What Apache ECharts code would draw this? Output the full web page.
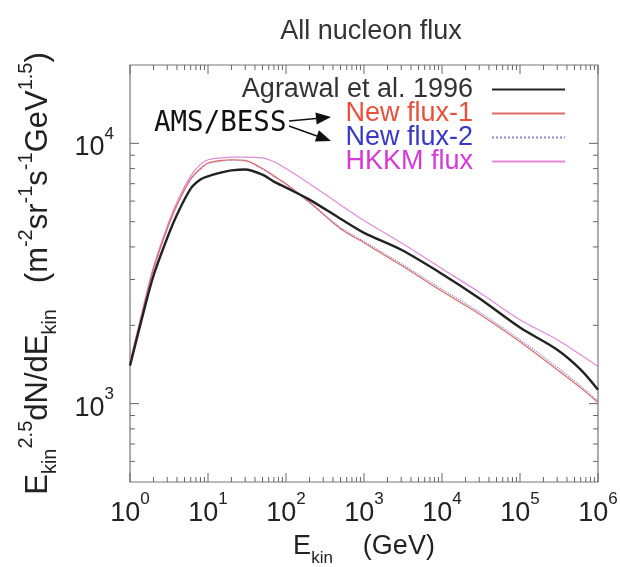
<!DOCTYPE html>
<html><head><meta charset="utf-8">
<script src="https://cdn.jsdelivr.net/npm/echarts@6/dist/echarts.min.js"></script>
<style>html,body{margin:0;padding:0;background:#fff}#c{width:620px;height:567px}</style>
</head><body><div id="c"></div>
<script>
// ---- data ----
const energies  = [1, 1.5, 2, 3, 4, 6, 8, 10, 15, 20, 30, 50, 70, 100, 200, 500, 1000, 3000, 1e4, 3e4, 1e5, 3e5, 6e5, 1e6];
const agrawal   = [1400, 2260, 3100, 4330, 5320, 6700, 7260, 7470, 7730, 7870, 7940, 7580, 7130, 6760, 6080, 5130, 4530, 3900, 3150, 2540, 1960, 1610, 1350, 1130];
const newFlux1  = [1420, 2350, 3300, 4700, 5800, 7300, 8000, 8400, 8600, 8650, 8600, 8000, 7500, 7000, 5950, 4700, 4150, 3400, 2700, 2210, 1730, 1350, 1150, 1010];
const newFlux2  = [1410, 2330, 3280, 4680, 5780, 7250, 7950, 8350, 8550, 8600, 8550, 7950, 7450, 6950, 5900, 4750, 4200, 3450, 2750, 2250, 1760, 1380, 1170, 1020];
const hkkm      = [1450, 2400, 3350, 4800, 5950, 7500, 8300, 8650, 8800, 8850, 8850, 8800, 8500, 8000, 7000, 5800, 5050, 4150, 3300, 2680, 2100, 1760, 1540, 1390];
const seriesNames = ['Agrawal et al. 1996', 'New flux-1', 'New flux-2', 'HKKM flux'];
const xMajorTicks = [1, 10, 100, 1e3, 1e4, 1e5, 1e6];
const yMajorTicks = [1000, 10000];
const xRange = [1, 1e6];
const yRange = [500, 20000];

const FONT = 'Liberation Sans';
function pairs(xs, ys) { return xs.map((x, i) => [x, ys[i]]); }
function isPow10(v) { const e = Math.round(Math.log10(v)); return Math.abs(v - Math.pow(10, e)) / v < 1e-6; }

// minor tick values (2..9 x 10^n) inside the axis ranges
function minors(lo, hi) {
  const out = [];
  for (let e = Math.floor(Math.log10(lo)); e <= Math.ceil(Math.log10(hi)); e++) {
    for (let m = 2; m <= 9; m++) { const v = m * Math.pow(10, e); if (v > lo && v < hi) out.push(v); }
  }
  return out;
}
const xTickData = xMajorTicks.map(v => [v, yRange[0], 9]).concat(minors(xRange[0], xRange[1]).map(v => [v, yRange[0], 5]));
const yTickData = yMajorTicks.map(v => [xRange[0], v, 9]).concat(minors(yRange[0], yRange[1]).map(v => [xRange[0], v, 5]));

const tickStyle = { stroke: '#666', lineWidth: 1 };
function renderXTick(params, api) {
  const v = api.value(0), len = api.value(2);
  const b = api.coord([v, yRange[0]]), t = api.coord([v, yRange[1]]);
  return { type: 'group', children: [
    { type: 'line', shape: { x1: b[0], y1: b[1], x2: b[0], y2: b[1] - len }, style: tickStyle },
    { type: 'line', shape: { x1: t[0], y1: t[1], x2: t[0], y2: t[1] + len }, style: tickStyle }
  ]};
}
function renderYTick(params, api) {
  const v = api.value(1), len = api.value(2);
  const l = api.coord([xRange[0], v]), r = api.coord([xRange[1], v]);
  return { type: 'group', children: [
    { type: 'line', shape: { x1: l[0], y1: l[1], x2: l[0] + len, y2: l[1] }, style: tickStyle },
    { type: 'line', shape: { x1: r[0], y1: r[1], x2: r[0] - len, y2: r[1] }, style: tickStyle }
  ]};
}

function arrow(x1, y1, x2, y2) {
  const dx = x2 - x1, dy = y2 - y1, L = Math.hypot(dx, dy), ux = dx / L, uy = dy / L, nx = -uy, ny = ux;
  const bx = x2 - 15 * ux, by = y2 - 15 * uy;
  return [
    { type: 'line', shape: { x1: x1, y1: y1, x2: bx, y2: by }, style: { stroke: '#111', lineWidth: 1.5 } },
    { type: 'polygon', shape: { points: [[x2, y2], [bx + 6 * nx, by + 6 * ny], [bx - 6 * nx, by - 6 * ny]] }, style: { fill: '#111' } }
  ];
}

const supRich = {
  b: { fontSize: 27, fontFamily: FONT, color: '#222', verticalAlign: 'bottom', lineHeight: 36 },
  s: { fontSize: 17, fontFamily: FONT, color: '#222', verticalAlign: 'top', lineHeight: 36 }
};
const nameRich = {
  n:  { fontSize: 27, fontFamily: FONT, color: '#222', lineHeight: 40, verticalAlign: 'middle' },
  sb: { fontSize: 17, fontFamily: FONT, color: '#222', lineHeight: 40, verticalAlign: 'bottom' },
  sp: { fontSize: 17, fontFamily: FONT, color: '#222', lineHeight: 40, verticalAlign: 'top' }
};
const yNameRich = {
  n:  { fontSize: 31, fontFamily: FONT, color: '#222', lineHeight: 44, verticalAlign: 'middle' },
  sb: { fontSize: 20, fontFamily: FONT, color: '#222', lineHeight: 44, verticalAlign: 'bottom' },
  sp: { fontSize: 20, fontFamily: FONT, color: '#222', lineHeight: 44, verticalAlign: 'top' }
};

const chart = echarts.init(document.getElementById('c'), null, { renderer: 'canvas' });
chart.setOption({
  animation: false,
  backgroundColor: '#fff',
  title: { text: 'All nucleon flux', left: 366, top: 13, textAlign: 'center',
           textStyle: { fontFamily: FONT, fontSize: 27, fontWeight: 'normal', color: '#333' } },
  grid: { left: 130, right: 22, top: 65, bottom: 85, show: true, borderColor: '#777', borderWidth: 1.2,
          containLabel: false, outerBoundsMode: 'none' },
  legend: {
    orient: 'vertical', right: 49, top: 71, align: 'right', selectedMode: false,
    itemWidth: 73, itemHeight: 1, itemGap: -3,
    itemStyle: { opacity: 0 },
    textStyle: { fontFamily: FONT, fontSize: 27, lineHeight: 22, padding: [0, 14, 0, 0] },
    data: [
      { name: seriesNames[0], textStyle: { color: '#333' } },
      { name: seriesNames[1], textStyle: { color: '#e8503c' } },
      { name: seriesNames[2], textStyle: { color: '#3838c8' } },
      { name: seriesNames[3], textStyle: { color: '#d838d8' } }
    ]
  },
  xAxis: {
    type: 'log', logBase: 10, min: xRange[0], max: xRange[1],
    axisLine: { show: false }, axisTick: { show: false }, splitLine: { show: false },
    axisLabel: { margin: 9, formatter: v => isPow10(v) ? '{b|10}{s|' + Math.round(Math.log10(v)) + '}' : '', rich: supRich,
                 showMinLabel: true, showMaxLabel: true },
    name: '{n|E}{sb|kin}{n|    (GeV)}', nameLocation: 'middle', nameGap: 45,
    nameTextStyle: { rich: nameRich }
  },
  yAxis: {
    type: 'log', logBase: 10, min: yRange[0], max: yRange[1],
    axisLine: { show: false }, axisTick: { show: false }, splitLine: { show: false },
    axisLabel: { margin: 16, formatter: v => isPow10(v) ? '{b|10}{s|' + Math.round(Math.log10(v)) + '}' : '', rich: supRich },
    name: '{n|E}{sb|kin}{sp|2.5}{n|dN/dE}{sb|kin}{n|   (m}{sp|-2}{n|sr}{sp|-1}{n|s}{sp|-1}{n|GeV}{sp|1.5}{n|)}',
    nameLocation: 'middle', nameRotate: 90, nameGap: 70,
    nameTextStyle: { rich: yNameRich }
  },
  series: [
    { name: seriesNames[3], type: 'line', data: pairs(energies, hkkm), symbol: 'none', showSymbol: false, smooth: 0.3,
      lineStyle: { color: '#e28ad8', width: 1.2 }, itemStyle: { color: '#e28ad8' }, z: 2 },
    { name: seriesNames[2], type: 'line', data: pairs(energies, newFlux2), symbol: 'none', showSymbol: false, smooth: 0.3,
      lineStyle: { color: '#8a84d8', width: 1.2, type: 'dotted' }, itemStyle: { color: '#8a84d8' }, z: 3 },
    { name: seriesNames[1], type: 'line', data: pairs(energies, newFlux1), symbol: 'none', showSymbol: false, smooth: 0.3,
      lineStyle: { color: '#e06a6a', width: 1.2 }, itemStyle: { color: '#e06a6a' }, z: 4 },
    { name: seriesNames[0], type: 'line', data: pairs(energies, agrawal), symbol: 'none', showSymbol: false, smooth: 0.3,
      lineStyle: { color: '#222', width: 2.4 }, itemStyle: { color: '#222' }, z: 5 },
    { type: 'custom', data: xTickData, renderItem: renderXTick, silent: true, clip: false, z: 6 },
    { type: 'custom', data: yTickData, renderItem: renderYTick, silent: true, clip: false, z: 6 }
  ],
  graphic: [
    { type: 'text', style: { text: 'AMS/BESS', x: 154, y: 124, verticalAlign: 'middle', align: 'left',
      font: '27.5px "DejaVu Sans Mono"', fill: '#111' } },
    ...arrow(289, 121, 331, 117),
    ...arrow(289, 126, 331, 141)
  ]
});
</script></body></html>
